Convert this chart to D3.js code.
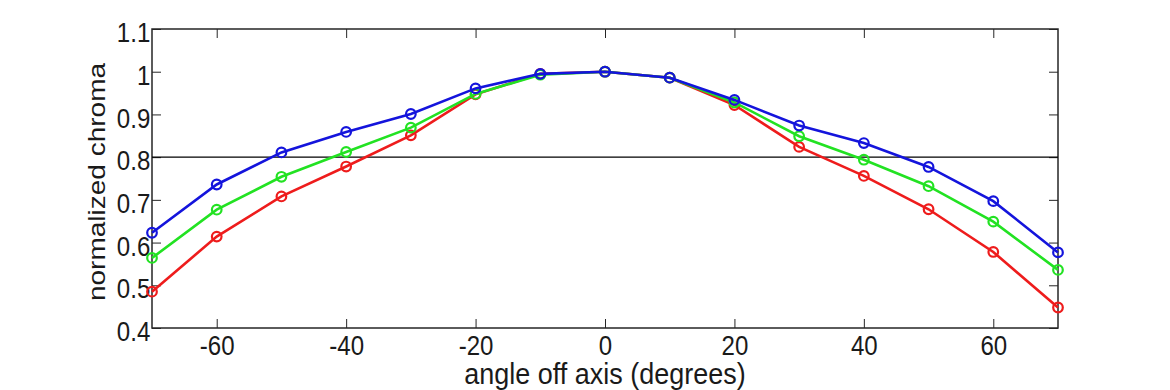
<!DOCTYPE html>
<html>
<head>
<meta charset="utf-8">
<script src="https://cdn.jsdelivr.net/npm/d3@7"></script>
<style>
  body { margin: 0; background: #fff; }
  svg { display: block; font-family: "Liberation Sans", Arial, sans-serif; }
</style>
</head>
<body>
<div id="chart"></div>
<script>
var angles = [-70, -60, -50, -40, -30, -20, -10, 0, 10, 20, 30, 40, 50, 60, 70]
var red   = [0.485, 0.614, 0.708, 0.778, 0.851, 0.947, 0.995, 1.0, 0.986, 0.922, 0.824, 0.756, 0.678, 0.578, 0.448]
var green = [0.564, 0.677, 0.754, 0.812, 0.869, 0.948, 0.993, 1.0, 0.986, 0.928, 0.849, 0.794, 0.732, 0.649, 0.536]
var blue  = [0.623, 0.736, 0.811, 0.859, 0.901, 0.961, 0.995, 1.0, 0.986, 0.934, 0.874, 0.833, 0.777, 0.697, 0.577]
var xTicks = [-60, -40, -20, 0, 20, 40, 60]
var yTicks = [0.4, 0.5, 0.6, 0.7, 0.8, 0.9, 1, 1.1]
var threshold = 0.8

var series = [
  { name: "red", values: red, color: "#ee1c1c" },
  { name: "green", values: green, color: "#22e222" },
  { name: "blue", values: blue, color: "#1414dc" }
]

var width = 1170, height = 390
var margin = { top: 29, right: 112, bottom: 62, left: 152 }
var w = width - margin.left - margin.right
var h = height - margin.top - margin.bottom

// the reference type is a bit narrow, so squeeze glyphs sideways
var squeeze = 0.86

var svg = d3.select("#chart").append("svg")
  .attr("width", width)
  .attr("height", height)

var g = svg.append("g")
  .attr("transform", "translate(" + margin.left + "," + margin.top + ")")

var x = d3.scaleLinear().domain([-70, 70]).range([0, w])
var y = d3.scaleLinear().domain([0.4, 1.1]).range([h, 0])

var axisColor = "#262626"
var tickLen = 9

function styleAxis(sel, labels) {
  sel.select(".domain").remove()
  sel.selectAll(".tick line").attr("stroke", axisColor).attr("stroke-width", 1)
  sel.selectAll(".tick text")
    .attr("fill", "#1a1a1a")
    .attr("transform", "scale(" + squeeze + ",1)")
    .style("font-size", "28px")
  if (!labels) sel.selectAll(".tick text").remove()
}

g.append("g")
  .attr("transform", "translate(0," + h + ")")
  .call(d3.axisBottom(x).tickValues(xTicks).tickSize(-tickLen).tickPadding(7).tickFormat(function(d) { return String(d) }))
  .call(styleAxis, true)

g.append("g")
  .call(d3.axisTop(x).tickValues(xTicks).tickSize(-tickLen))
  .call(styleAxis, false)

g.append("g")
  .call(d3.axisLeft(y).tickValues(yTicks).tickSize(-tickLen).tickPadding(2).tickFormat(function(d) { return d === 1 ? "1" : d3.format(".1f")(d) }))
  .call(styleAxis, true)
  .selectAll(".tick text").attr("dy", "0.45em")

g.append("g")
  .attr("transform", "translate(" + w + ",0)")
  .call(d3.axisRight(y).tickValues(yTicks).tickSize(-tickLen))
  .call(styleAxis, false)

g.append("rect")
  .attr("width", w)
  .attr("height", h)
  .attr("fill", "none")
  .attr("stroke", axisColor)
  .attr("stroke-width", 1.5)

g.append("line")
  .attr("x1", 0).attr("x2", w)
  .attr("y1", y(threshold)).attr("y2", y(threshold))
  .attr("stroke", "#000")
  .attr("stroke-width", 1.2)

var line = d3.line()
  .x(function(d, i) { return x(angles[i]) })
  .y(function(d) { return y(d) })

var sg = g.selectAll(".series").data(series).enter().append("g")

sg.append("path")
  .attr("d", function(s) { return line(s.values) })
  .attr("fill", "none")
  .attr("stroke", function(s) { return s.color })
  .attr("stroke-width", 2.6)

sg.selectAll("circle")
  .data(function(s) { return s.values.map(function(v, i) { return { v: v, a: angles[i], c: s.color } }) })
  .enter().append("circle")
  .attr("cx", function(d) { return x(d.a) })
  .attr("cy", function(d) { return y(d.v) })
  .attr("r", 4.8)
  .attr("fill", "none")
  .attr("stroke", function(d) { return d.c })
  .attr("stroke-width", 2.2)

svg.append("text")
  .attr("transform", "translate(" + (margin.left + w / 2) + "," + (height - 6) + ") scale(0.93,1)")
  .attr("text-anchor", "middle")
  .attr("fill", "#1a1a1a")
  .style("font-size", "29px")
  .text("angle off axis (degrees)")

svg.append("text")
  .attr("transform", "translate(105,182) rotate(-90) scale(1," + squeeze + ")")
  .attr("text-anchor", "middle")
  .attr("fill", "#1a1a1a")
  .style("font-size", "28px")
  .text("normalized chroma")
</script>
</body>
</html>
